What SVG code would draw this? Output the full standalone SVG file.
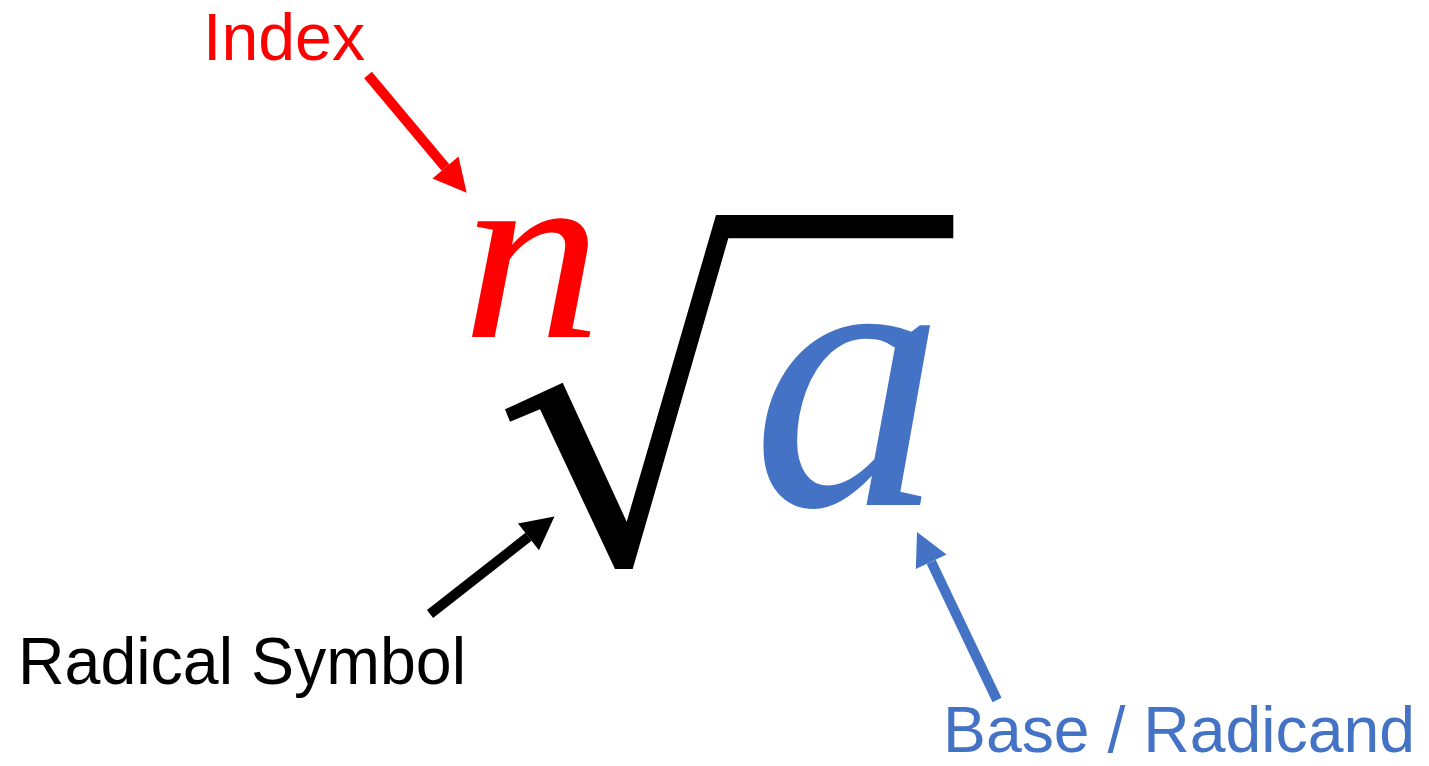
<svg xmlns="http://www.w3.org/2000/svg" width="1429" height="766" viewBox="0 0 1429 766">
<style>
.lbl{font-family:"Liberation Sans","Open Sans",sans-serif;font-size:66px}
.math{font-family:"Liberation Serif","DejaVu Serif",serif;font-style:italic}
.red{fill:#FF0000}
.blue{fill:#4472C4}
.blk{fill:#000000}
.arr{stroke-width:10;fill:none;stroke-linecap:butt}
</style>
<defs>
<marker id="hR" markerWidth="3.4" markerHeight="3.4" refX="0" refY="1.7" orient="auto" overflow="visible"><path d="M0,0 L3.3,1.7 L0,3.4 Z" fill="#FF0000"/></marker>
<marker id="hK" markerWidth="3.4" markerHeight="3.4" refX="0" refY="1.7" orient="auto" overflow="visible"><path d="M0,0 L3.3,1.7 L0,3.4 Z" fill="#000000"/></marker>
<marker id="hB" markerWidth="3.4" markerHeight="3.4" refX="0" refY="1.7" orient="auto" overflow="visible"><path d="M0,0 L3.3,1.7 L0,3.4 Z" fill="#4472C4"/></marker>
</defs>
<rect width="1429" height="766" fill="#FFFFFF"/>
<g id="radical">
<path class="blk" d="M505,409.3 L562.7,382.7 L626.7,521.7 L716,215 L953.3,215 L953.3,238.3 L728.3,238.3 L632.7,569 L615,569 L540,409.3 L510,421.7 Z"/>
</g>
<g id="index-n"><text class="math red" x="462" y="337" font-size="252" textLength="140" lengthAdjust="spacingAndGlyphs">n</text></g>
<g id="base-a"><text class="math blue" x="752" y="505" font-size="385">a</text></g>
<g id="label-index"><text class="lbl red" x="203" y="60" textLength="162" lengthAdjust="spacingAndGlyphs">Index</text></g>
<g id="label-radical"><text class="lbl blk" x="18" y="684" textLength="448" lengthAdjust="spacingAndGlyphs">Radical Symbol</text></g>
<g id="label-base"><text class="lbl blue" x="943" y="752" font-size="64" style="font-size:64px" textLength="472" lengthAdjust="spacingAndGlyphs">Base / Radicand</text></g>
<g id="connectors">
<line class="arr" x1="368" y1="75" x2="445.5" y2="167.5" stroke="#FF0000" marker-end="url(#hR)"/>
<line class="arr" x1="430" y1="614" x2="528.5" y2="536.8" stroke="#000000" marker-end="url(#hK)"/>
<line class="arr" x1="997" y1="700" x2="931.2" y2="561.8" stroke="#4472C4" marker-end="url(#hB)"/>
</g>
</svg>
